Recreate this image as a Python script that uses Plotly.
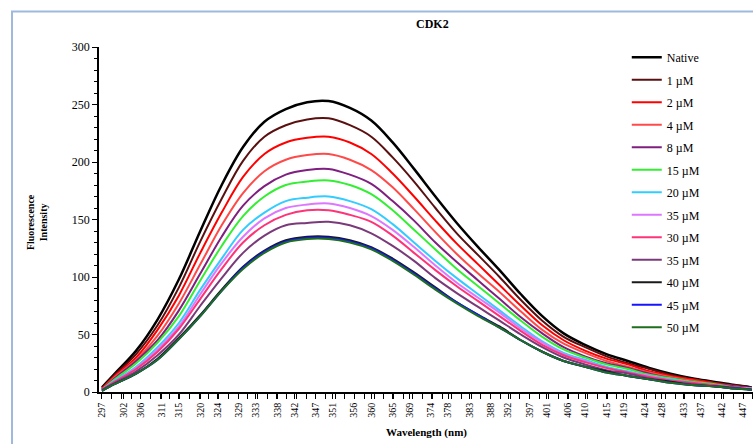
import plotly.graph_objects as go

wavelength = [297, 300, 305, 310, 315, 320, 325, 330, 335, 340, 345, 350, 355, 360, 365, 370,
              375, 380, 385, 390, 395, 400, 405, 410, 415, 420, 425, 430, 435, 440, 445, 449]

native = [4, 16, 36, 63, 98, 140, 180, 213, 235, 246, 252, 253, 247, 236, 217, 194,
          170, 147, 126, 106, 85, 66, 51, 41, 33, 27, 21, 16, 12, 9, 6, 4]
um1 = [3, 15, 33, 58, 91, 131, 168, 201, 222, 232, 237, 238, 232, 222, 204, 183,
       160, 138, 119, 100, 80, 62, 48, 39, 31, 25, 20, 15, 11, 8, 6, 4]
um2 = [3, 14, 30, 54, 84, 121, 156, 187, 207, 217, 221, 222, 217, 207, 190, 170,
       149, 129, 111, 93, 75, 58, 45, 36, 29, 24, 18, 14, 11, 8, 5, 3]
um4 = [2, 13, 28, 49, 77, 111, 145, 173, 192, 202, 206, 207, 202, 193, 178, 159,
       139, 120, 103, 87, 70, 54, 42, 34, 27, 22, 17, 13, 10, 7, 5, 3]
um8 = [2, 12, 27, 45, 71, 103, 135, 162, 179, 189, 193, 194, 189, 181, 166, 149,
       130, 113, 97, 81, 65, 51, 39, 31, 25, 21, 16, 12, 9, 7, 5, 3]
um15 = [2, 11, 25, 43, 66, 97, 127, 153, 170, 180, 183, 184, 180, 172, 158, 141,
        124, 107, 92, 77, 62, 48, 37, 30, 24, 20, 15, 12, 9, 7, 4, 3]
um20 = [2, 10, 22, 39, 60, 89, 116, 141, 156, 166, 169, 170, 166, 159, 146, 130,
        114, 99, 85, 71, 57, 44, 34, 28, 22, 18, 14, 11, 8, 6, 4, 3]
um35a = [2, 9, 21, 37, 57, 85, 112, 135, 151, 160, 163, 164, 160, 153, 141, 126,
         110, 95, 82, 69, 55, 43, 33, 27, 21, 17, 14, 10, 8, 6, 4, 3]
um30 = [2, 9, 20, 35, 55, 81, 107, 130, 145, 154, 158, 158, 154, 148, 136, 121,
        106, 92, 79, 66, 53, 41, 32, 26, 21, 17, 13, 10, 8, 6, 4, 2]
um35b = [2, 8, 18, 32, 50, 75, 99, 121, 136, 145, 147, 148, 145, 138, 127, 114,
         99, 86, 74, 62, 50, 39, 30, 24, 19, 16, 12, 9, 7, 5, 4, 2]
um40 = [1, 7, 16, 29, 47, 67, 89, 109, 123, 132, 135, 135, 132, 126, 116, 104,
        91, 78, 67, 57, 45, 35, 27, 22, 18, 14, 11, 9, 6, 5, 3, 2]
um45 = [1, 7, 16, 28, 46, 66, 88, 108, 122, 131, 134, 134, 131, 125, 115, 103,
        90, 78, 67, 56, 45, 35, 27, 22, 17, 14, 11, 8, 6, 5, 3, 2]
um50 = [1, 7, 16, 28, 46, 66, 88, 107, 121, 130, 133, 133, 130, 124, 114, 102,
        89, 77, 66, 56, 45, 35, 27, 22, 17, 14, 11, 8, 6, 5, 3, 2]

series_names = ["Native", "1 µM", "2 µM", "4 µM", "8 µM", "15 µM", "20 µM", "35 µM",
                "30 µM", "35 µM", "40 µM", "45 µM", "50 µM"]
series_values = [native, um1, um2, um4, um8, um15, um20, um35a, um30, um35b, um40, um45, um50]
series_colors = ["#000000", "#5a1010", "#ff0000", "#ff4a4a", "#7f1f7f", "#33ee33", "#33ccff",
                 "#dd77ff", "#ff3377", "#7a3a7a", "#1a1a1a", "#1515ff", "#1e6e1e"]

x_tick_labels = [297, 302, 306, 311, 315, 320, 324, 329, 333, 338, 342, 347, 351, 356, 360, 365,
                 369, 374, 378, 383, 388, 392, 397, 401, 406, 410, 415, 419, 424, 428, 433, 437,
                 442, 447]

SERIF = "Liberation Serif"

fig = go.Figure()
for i, (name, vals, col) in enumerate(zip(series_names, series_values, series_colors)):
    fig.add_trace(go.Scatter(
        x=wavelength, y=vals, name=name, mode="lines",
        line=dict(color=col, width=2.5 if i == 0 else 2, shape="spline", smoothing=1.0),
        legendgroup="g%d" % i,
    ))

fig.update_layout(
    width=753, height=444,
    margin=dict(l=99, r=0, t=47, b=52),
    paper_bgcolor="white", plot_bgcolor="white",
    font=dict(family=SERIF, size=12, color="black"),
    showlegend=True,
    legend=dict(x=0.807, y=1.012, xanchor="left", yanchor="top",
                bgcolor="rgba(0,0,0,0)", font=dict(family=SERIF, size=12),
                tracegroupgap=3.5, traceorder="grouped", maxheight=420),
    xaxis=dict(range=[296.3, 449.3], showline=True, linecolor="black", linewidth=1.5,
               ticks="outside", ticklen=5, tickcolor="black",
               tickmode="array", tickvals=x_tick_labels, ticktext=[str(v) for v in x_tick_labels],
               tickangle=-90, tickfont=dict(family=SERIF, size=10),
               minor=dict(ticks="outside", ticklen=5, tick0=297, dtick=2.2727, tickcolor="black"),
               showgrid=False, zeroline=False, automargin=False),
    yaxis=dict(range=[0, 300], showline=True, linecolor="black", linewidth=1.5,
               ticks="outside", ticklen=5, tickcolor="black", dtick=50,
               tickfont=dict(family=SERIF, size=12),
               minor=dict(ticks="outside", ticklen=3, dtick=10, tickcolor="black"),
               showgrid=False, zeroline=False, automargin=False),
    shapes=[dict(type="rect", xref="paper", yref="paper", x0=-0.133, x1=1.3, y0=-0.4, y1=1.1026,
                 line=dict(color="#9fb9dc", width=2), fillcolor="rgba(0,0,0,0)", layer="below")],
    annotations=[
        dict(text="<b>CDK2</b>", xref="paper", yref="paper", x=0.5107, y=1.0677,
             showarrow=False, font=dict(family=SERIF, size=12), xanchor="center", yanchor="middle"),
        dict(text="<b>Wavelength (nm)</b>", xref="paper", yref="paper", x=0.5, y=-0.1177,
             showarrow=False, font=dict(family=SERIF, size=11), xanchor="center", yanchor="middle"),
        dict(text="<b>Fluorescence<br>Intensity</b>", xref="paper", yref="paper", x=-0.0948, y=0.4925,
             showarrow=False, textangle=-90, font=dict(family=SERIF, size=10),
             xanchor="center", yanchor="middle"),
    ],
)

fig.write_html("out.html", config={"displayModeBar": False},
               post_script="document.body.style.margin='0';document.body.style.overflow='hidden';")
